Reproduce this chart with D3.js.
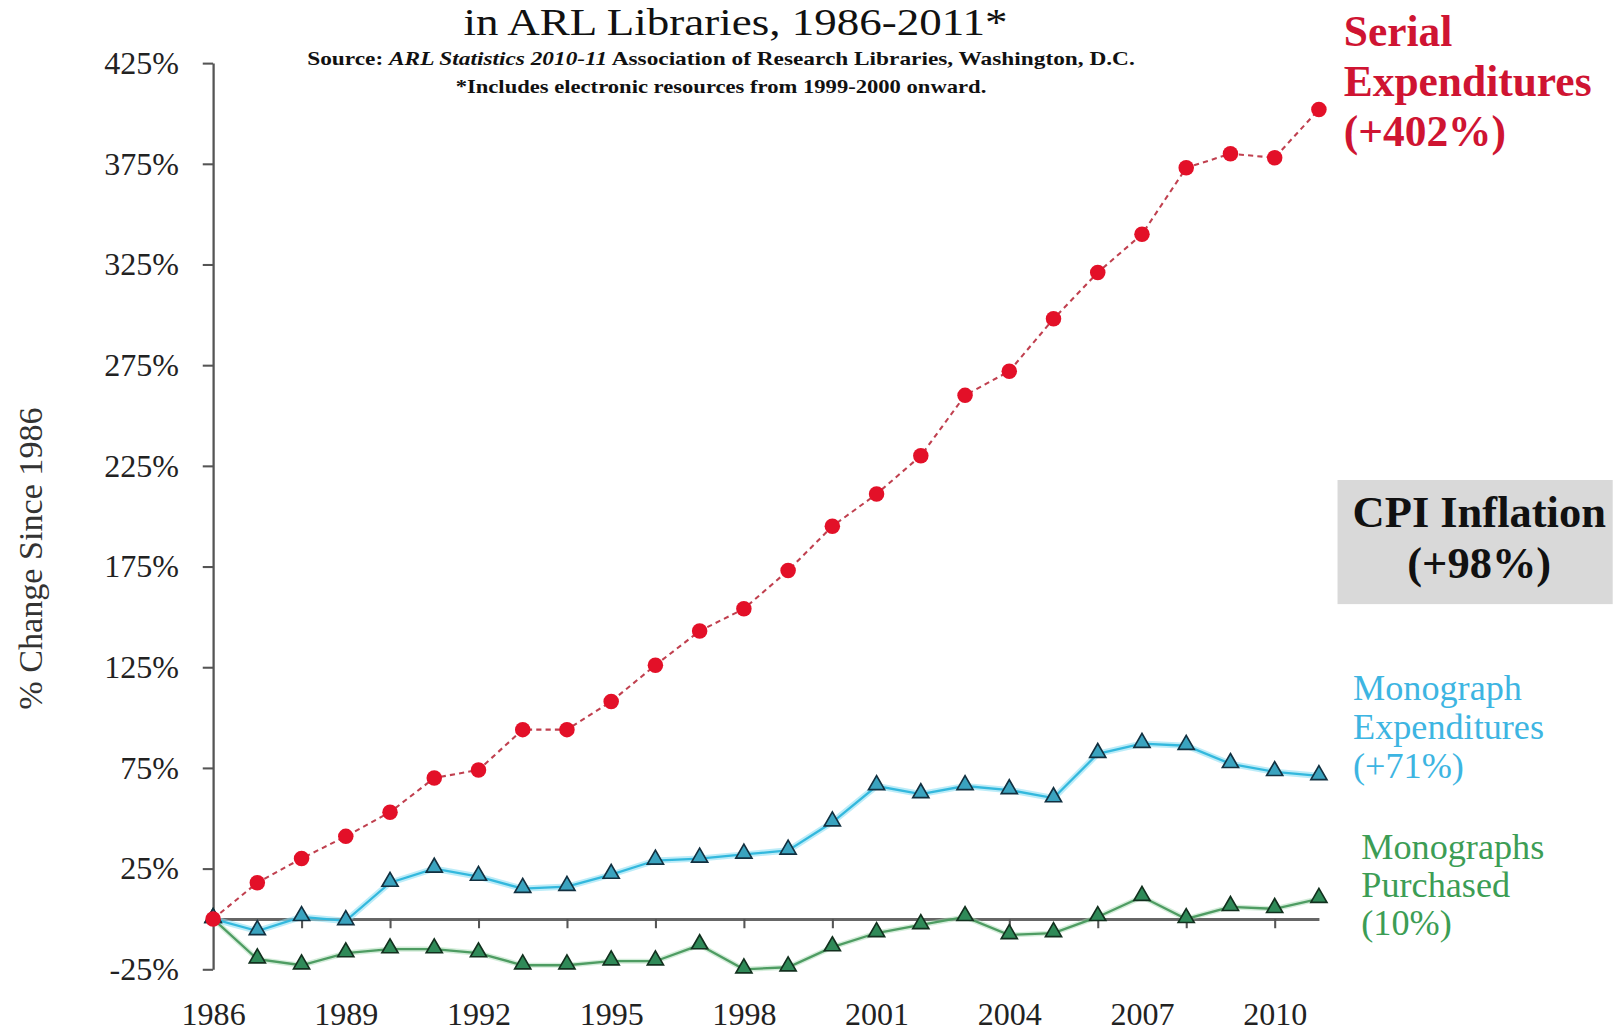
<!DOCTYPE html>
<html>
<head>
<meta charset="utf-8">
<script src="https://cdn.jsdelivr.net/npm/d3@7"></script>
<style>
  html, body { margin: 0; padding: 0; background: #fff; }
  svg { display: block; }
  text { font-family: "Liberation Serif", "DejaVu Serif", serif; }
</style>
</head>
<body>
<svg id="chart" width="1622" height="1031"></svg>
<script>
// ---- data ----
const years = [1986,1987,1988,1989,1990,1991,1992,1993,1994,1995,1996,1997,1998,1999,2000,2001,2002,2003,2004,2005,2006,2007,2008,2009,2010,2011];
const serialExpenditures = [0,18,30,41,53,70,74,94,94,108,126,143,154,173,195,211,230,260,272,298,321,340,373,380,378,402];
const monographExpenditures = [0,-6,1,-1,18,25,21,15,16,22,29,30,32,34,48,66,62,66,64,60,82,87,86,77,73,71];
const monographsPurchased = [0,-20,-23,-17,-15,-15,-17,-23,-23,-21,-21,-13,-25,-24,-14,-7,-3,1,-8,-7,1,11,0,6,5,10];
const yTickValues = [-25,25,75,125,175,225,275,325,375,425];
const xLabelYears = [1986,1989,1992,1995,1998,2001,2004,2007,2010];
const xTickYears = [1988,1990,1992,1994,1996,1998,2000,2002,2004,2006,2008,2010];
const titleText = "in ARL Libraries, 1986-2011*";
const noteText = "*Includes electronic resources from 1999-2000 onward.";
const serialLabel = ["Serial", "Expenditures", "(+402%)"];
const cpiLabel = ["CPI Inflation", "(+98%)"];
const monoExpLabel = ["Monograph", "Expenditures", "(+71%)"];
const monoPurchLabel = ["Monographs", "Purchased", "(10%)"];

// ---- layout (working units, scaled to the 1622px window) ----
const W = 1568;
const k = 1622 / W;
const svg = d3.select("#chart");
const root = svg.append("g").attr("transform", `scale(${k})`);

const x = d3.scaleLinear().domain([1986, 2011]).range([206, 1275]);
const y = d3.scaleLinear().domain([-25, 425]).range([937, 61]);

// ---- titles ----
root.append("text").attr("x", 711).attr("y", 34).attr("text-anchor", "middle")
  .attr("font-size", 37).attr("fill", "#111")
  .attr("textLength", 526).attr("lengthAdjust", "spacingAndGlyphs").text(titleText);

const src = root.append("text").attr("x", 697).attr("y", 63).attr("text-anchor", "middle")
  .attr("font-size", 19).attr("font-weight", "bold").attr("fill", "#111")
  .attr("textLength", 800).attr("lengthAdjust", "spacingAndGlyphs");
src.append("tspan").text("Source:  ");
src.append("tspan").attr("font-style", "italic").text("ARL Statistics 2010-11");
src.append("tspan").text("  Association of Research Libraries, Washington, D.C.");

root.append("text").attr("x", 697).attr("y", 90).attr("text-anchor", "middle")
  .attr("font-size", 19).attr("font-weight", "bold").attr("fill", "#111")
  .attr("textLength", 513).attr("lengthAdjust", "spacingAndGlyphs").text(noteText);

// ---- y axis ----
const yAxis = root.append("g").attr("transform", `translate(${x(1986)},0)`)
  .call(d3.axisLeft(y).tickValues(yTickValues).tickFormat(d => d + "%").tickSize(10).tickSizeOuter(0).tickPadding(23));
yAxis.select(".domain").attr("stroke", "#555").attr("stroke-width", 2.2);
yAxis.selectAll(".tick line").attr("stroke", "#555").attr("stroke-width", 2);
yAxis.selectAll(".tick text").attr("font-size", 31).attr("fill", "#222")
  .style("font-family", "'Liberation Serif', serif");

root.append("text")
  .attr("transform", `translate(41,540) rotate(-90)`)
  .attr("text-anchor", "middle").attr("font-size", 33).attr("fill", "#333")
  .text("% Change Since 1986");

// ---- zero line with tick marks ----
const zeroAxis = root.append("g").attr("transform", `translate(0,${y(0)})`)
  .call(d3.axisBottom(x).tickValues(xTickYears).tickFormat("").tickSize(9).tickSizeOuter(0));
zeroAxis.select(".domain").attr("stroke", "#666").attr("stroke-width", 3);
zeroAxis.selectAll(".tick line").attr("stroke", "#555").attr("stroke-width", 2);

// ---- x labels ----
const xLab = root.append("g").attr("transform", `translate(0,${y(-25)})`)
  .call(d3.axisBottom(x).tickValues(xLabelYears).tickFormat(d3.format("d")).tickSize(0).tickPadding(32));
xLab.select(".domain").remove();
xLab.selectAll(".tick text").attr("font-size", 31).attr("fill", "#222")
  .style("font-family", "'Liberation Serif', serif");

// ---- series ----
const line = d3.line().x(d => x(d[0])).y(d => y(d[1]));
const zip = arr => years.map((yr, i) => [yr, arr[i]]);

// monographs purchased (green)
root.append("path").datum(zip(monographsPurchased)).attr("d", line)
  .attr("fill", "none").attr("stroke", "#a9dcb5").attr("stroke-width", 5).attr("opacity", 0.5);
root.append("path").datum(zip(monographsPurchased)).attr("d", line)
  .attr("fill", "none").attr("stroke", "#4e9c62").attr("stroke-width", 2.2);
// monograph expenditures (cyan)
root.append("path").datum(zip(monographExpenditures)).attr("d", line)
  .attr("fill", "none").attr("stroke", "#8fe0f4").attr("stroke-width", 6).attr("opacity", 0.6);
root.append("path").datum(zip(monographExpenditures)).attr("d", line)
  .attr("fill", "none").attr("stroke", "#33b8dd").attr("stroke-width", 2.2);
// serial expenditures (red dashed)
root.append("path").datum(zip(serialExpenditures)).attr("d", line)
  .attr("fill", "none").attr("stroke", "#c0404f").attr("stroke-width", 2)
  .attr("stroke-dasharray", "5,4");

const tri = d3.symbol().type(d3.symbolTriangle).size(105);
root.append("g").selectAll("path").data(zip(monographsPurchased)).join("path")
  .attr("d", tri).attr("transform", d => `translate(${x(d[0])},${y(d[1]) - 1})`)
  .attr("fill", "#2f8a58").attr("stroke", "#12301e").attr("stroke-width", 1.6);
root.append("g").selectAll("path").data(zip(monographExpenditures)).join("path")
  .attr("d", tri).attr("transform", d => `translate(${x(d[0])},${y(d[1]) - 1})`)
  .attr("fill", "#3aa3bf").attr("stroke", "#123040").attr("stroke-width", 1.6);
root.append("g").selectAll("circle").data(zip(serialExpenditures)).join("circle")
  .attr("cx", d => x(d[0])).attr("cy", d => y(d[1])).attr("r", 7.5)
  .attr("fill", "#e31028");

// ---- annotations ----
const multiline = (lines, x0, y0, dy, attrs) => {
  const t = root.append("text").attr("x", x0).attr("y", y0);
  Object.entries(attrs).forEach(([a, v]) => t.attr(a, v));
  lines.forEach((s, i) => t.append("tspan").attr("x", x0).attr("y", y0 + i * dy).text(s));
  return t;
};
multiline(serialLabel, 1299, 44, 48.5, {"font-size": 42, "font-weight": "bold", "fill": "#cf1432"});

root.append("rect").attr("x", 1293).attr("y", 464).attr("width", 266).attr("height", 120).attr("fill", "#d9d9d9");
multiline(cpiLabel, 1430, 509, 50, {"font-size": 43, "font-weight": "bold", "fill": "#111", "text-anchor": "middle"});

multiline(monoExpLabel, 1308, 677, 37.5, {"font-size": 35, "fill": "#3db5e2"});
multiline(monoPurchLabel, 1316, 830, 37, {"font-size": 35, "fill": "#3c9d55"});
</script>
</body>
</html>
